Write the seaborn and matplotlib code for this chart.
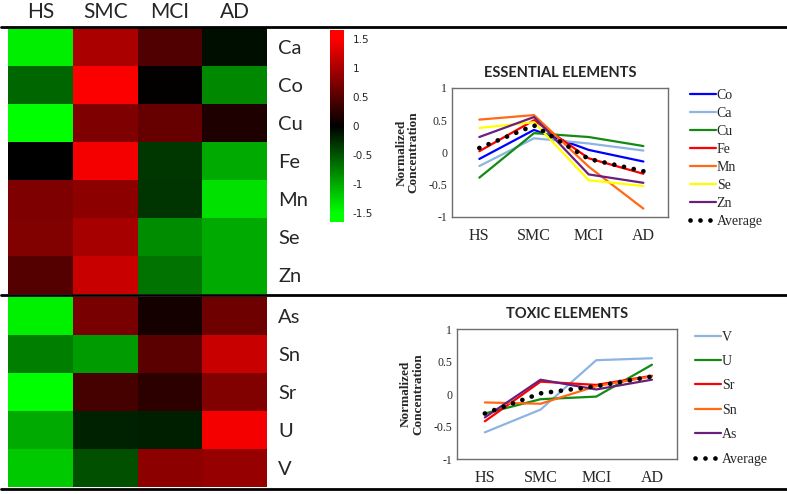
import numpy as np
import pandas as pd
import matplotlib
matplotlib.use("Agg")
import matplotlib.pyplot as plt
import seaborn as sns
from matplotlib.colors import LinearSegmentedColormap
from matplotlib.lines import Line2D

sns.set_style("white")

# data
stages = ["HS", "SMC", "MCI", "AD"]

essential = ["Ca", "Co", "Cu", "Fe", "Mn", "Se", "Zn"]
essential_heat = [
    [-1.40, 1.00, 0.47, -0.09],
    [-0.60, 1.47, 0.02, -0.80],
    [-1.50, 0.74, 0.60, 0.18],
    [0.00, 1.44, -0.32, -1.00],
    [0.74, 0.82, -0.30, -1.32],
    [0.76, 0.97, -0.82, -1.00],
    [0.50, 1.18, -0.68, -1.00],
]

toxic = ["As", "Sn", "Sr", "U", "V"]
toxic_heat = [
    [-1.41, 0.70, 0.12, 0.65],
    [-0.74, -0.91, 0.53, 1.18],
    [-1.50, 0.41, 0.26, 0.76],
    [-1.00, -0.20, -0.18, 1.44],
    [-1.18, -0.47, 0.82, 0.88],
]

# normalized concentration lines
ess_lines = {
    "Co": [-0.10, 0.35, 0.04, -0.14],
    "Ca": [-0.21, 0.22, 0.14, 0.03],
    "Cu": [-0.39, 0.30, 0.24, 0.10],
    "Fe": [0.02, 0.50, -0.09, -0.33],
    "Mn": [0.51, 0.58, -0.22, -0.87],
    "Se": [0.38, 0.47, -0.43, -0.52],
    "Zn": [0.24, 0.55, -0.34, -0.47],
}
ess_avg = [0.07, 0.42, -0.10, -0.29]

tox_lines = {
    "V": [-0.59, -0.24, 0.52, 0.55],
    "U": [-0.30, -0.08, -0.04, 0.45],
    "Sr": [-0.42, 0.19, 0.14, 0.28],
    "Sn": [-0.13, -0.15, 0.12, 0.27],
    "As": [-0.36, 0.22, 0.07, 0.22],
}
tox_avg = [-0.30, 0.01, 0.12, 0.27]

line_colors = {
    "Co": "#0000FF", "Ca": "#8DB4E2", "Cu": "#138A13", "Fe": "#FF0000",
    "Mn": "#FF6A13", "Se": "#FFFF00", "Zn": "#6B1F7C",
    "V": "#8DB4E2", "U": "#138A13", "Sr": "#FF0000", "Sn": "#FF6A13", "As": "#6B1F7C",
}

sans = ["Lato", "DejaVu Sans"]
serif = ["Liberation Serif", "DejaVu Serif"]

# green-black-red, saturated beyond +-1.5
cmap = LinearSegmentedColormap.from_list(
    "gbr", [(0, "#00FF00"), (0.045, "#00FF00"), (0.5, "#000000"),
            (0.955, "#FF0000"), (1, "#FF0000")])
vlim = 1.65

W, H = 787, 494
fig = plt.figure(figsize=(W / 100, H / 100), dpi=100)


def box(x0, y0, x1, y1):
    return [x0 / W, 1 - y1 / H, (x1 - x0) / W, (y1 - y0) / H]


ax_h1 = fig.add_axes(box(8, 28, 267, 294))
ax_h2 = fig.add_axes(box(8, 297, 267, 487))
cax = fig.add_axes(box(330, 30, 344, 222))

sns.heatmap(pd.DataFrame(essential_heat, index=essential, columns=stages),
            ax=ax_h1, cmap=cmap, vmin=-vlim, vmax=vlim, cbar_ax=cax)
sns.heatmap(pd.DataFrame(toxic_heat, index=toxic, columns=stages),
            ax=ax_h2, cmap=cmap, vmin=-vlim, vmax=vlim, cbar=False)

for ax in (ax_h1, ax_h2):
    ax.set_xlabel("")
    ax.set_ylabel("")
    ax.yaxis.tick_right()
    ax.tick_params(axis="y", length=0, pad=8, labelrotation=0)
    for t in ax.get_yticklabels():
        t.set_fontfamily(sans)
        t.set_fontsize(14.5)
        t.set_ha("left")

ax_h1.xaxis.tick_top()
ax_h1.tick_params(axis="x", length=0, pad=4)
for t in ax_h1.get_xticklabels():
    t.set_fontfamily(sans)
    t.set_fontsize(15)
ax_h2.set_xticks([])

cax.set_yticks([-1.5, -1, -0.5, 0, 0.5, 1, 1.5])
cax.set_yticklabels(["-1.5", "-1", "-0.5", "0", "0.5", "1", "1.5"])
cax.tick_params(length=0, pad=6, labelsize=7.5)
for sp in cax.spines.values():
    sp.set_visible(False)

# separator lines
for yy in (27, 295, 489):
    fig.add_artist(Line2D([1 / W, 1], [1 - yy / H, 1 - yy / H],
                          transform=fig.transFigure, color="black", lw=2))


def line_panel(rect, series, avg, title, leg_anchor, leg_spacing):
    ax = fig.add_axes(rect)
    x = np.arange(len(stages))
    for name, vals in series.items():
        sns.lineplot(x=x, y=vals, ax=ax, color=line_colors[name], lw=1.6, label=name)
    sns.lineplot(x=x, y=avg, ax=ax, color="black", lw=3.4,
                 linestyle=(0, (0.01, 2.1)), dash_capstyle="round", label="Average")
    ax.set_xlim(-0.5, 3.45)
    ax.set_ylim(-1, 1)
    ax.set_yticks([-1, -0.5, 0, 0.5, 1])
    ax.set_yticklabels(["-1", "-0.5", "0", "0.5", "1"], fontfamily=serif, fontsize=8.5)
    ax.set_xticks(x)
    ax.set_xticklabels(stages, fontfamily=serif, fontsize=11.5)
    ax.tick_params(length=0)
    ax.tick_params(axis="x", pad=8)
    for sp in ax.spines.values():
        sp.set_color("#6E6E6E")
        sp.set_linewidth(1.0)
    ax.set_ylabel("Normalized\nConcentration", fontfamily=serif, fontsize=9.5,
                  fontweight="bold", linespacing=1.0)
    ax.yaxis.set_label_coords(-0.15, 0.5)
    ax.set_title(title, fontfamily=sans, fontsize=10.5, fontweight="bold", pad=8)
    ax.legend(loc="upper left", bbox_to_anchor=leg_anchor,
              bbox_transform=fig.transFigure, frameon=False,
              prop={"family": serif, "size": 10}, handlelength=1.9,
              handletextpad=0.05, labelspacing=leg_spacing, borderaxespad=0)
    return ax


line_panel(box(452, 88, 668, 217), ess_lines, ess_avg, "ESSENTIAL ELEMENTS",
           (684 / W, 1 - 83 / H), 0.36)
line_panel(box(457, 329, 677, 459), tox_lines, tox_avg, "TOXIC ELEMENTS",
           (689 / W, 1 - 325 / H), 0.82)

plt.savefig("out.png", dpi=100)
